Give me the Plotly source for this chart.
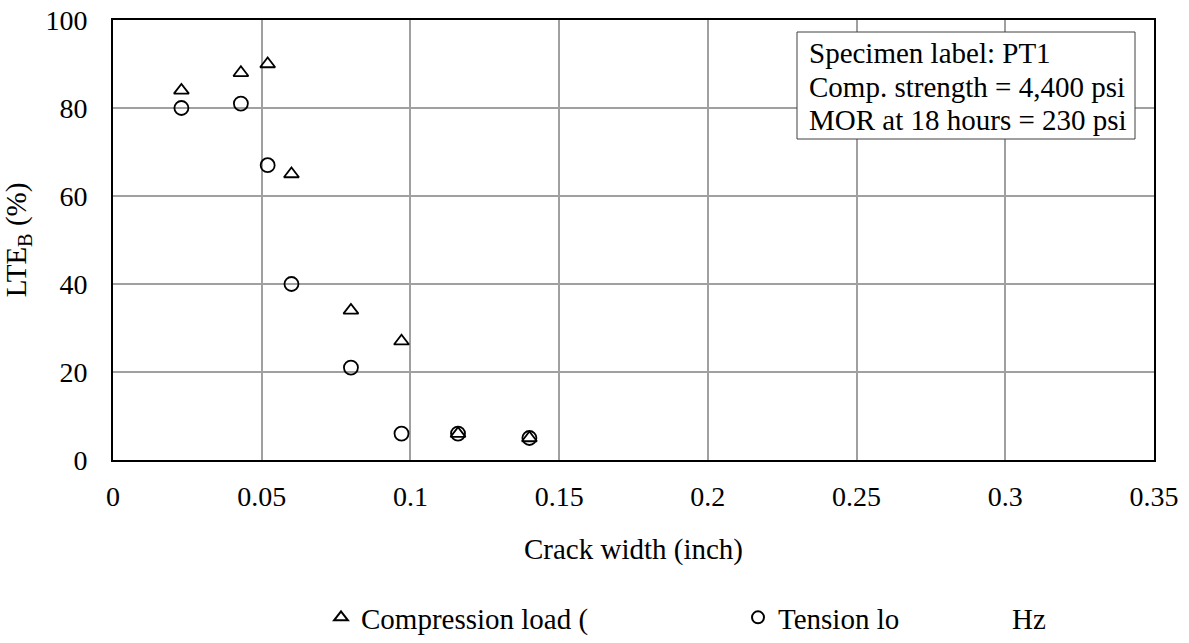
import plotly.graph_objects as go

# Data
crack_width = [0.023, 0.043, 0.052, 0.060, 0.080, 0.097, 0.116, 0.140]
lte_compression = [84, 88, 90, 65, 34, 27, 6, 5]
lte_tension = [80, 81, 67, 40, 21, 6, 6, 5]

x_ticks = [0, 0.05, 0.1, 0.15, 0.2, 0.25, 0.3, 0.35]
y_ticks = [0, 20, 40, 60, 80, 100]

series_names = ["Compression load (", "Tension lo"]
legend_tail = "Hz"
info_lines = ["Specimen label: PT1", "Comp. strength = 4,400 psi", "MOR at 18 hours = 230 psi"]

FONT = "Liberation Serif, Times New Roman, serif"
FS_TICK = 28
FS = 29

W, H = 1189, 643
ML, MR, MT, MB = 113, 35, 20, 183
PW = W - ML - MR
PH = H - MT - MB


def px(x):
    return (x - ML) / PW


def py(y):
    return (H - MB - y) / PH


fig = go.Figure()
fig.add_trace(go.Scatter(
    x=crack_width, y=lte_compression, mode="markers",
    name=series_names[0],
    marker=dict(symbol="triangle-up-open", size=13, color="black",
                line=dict(color="black", width=1.8)),
))
fig.add_trace(go.Scatter(
    x=crack_width, y=lte_tension, mode="markers",
    name=series_names[1],
    marker=dict(symbol="circle-open", size=14, color="black",
                line=dict(color="black", width=1.8)),
))

axis_common = dict(
    showline=True, linecolor="black", linewidth=2, mirror=True,
    showgrid=True, gridcolor="#a0a0a0", gridwidth=1.5,
    zeroline=False, ticks="",
    tickfont=dict(family=FONT, size=FS_TICK, color="black"),
)
fig.update_xaxes(range=[0, 0.35], tickvals=x_ticks,
                 ticktext=[f"{v:g}" for v in x_ticks],
                 ticklabelstandoff=10,
                 title=dict(text="Crack width (inch)", standoff=28,
                            font=dict(family=FONT, size=FS, color="black")),
                 **axis_common)
fig.update_yaxes(range=[0, 100], tickvals=y_ticks,
                 ticklabelstandoff=18,
                 title=dict(text="LTE<sub>B</sub> (%)", standoff=12,
                            font=dict(family=FONT, size=FS, color="black")),
                 **axis_common)

# info box
fig.add_shape(type="rect", xref="paper", yref="paper",
              x0=px(797), x1=px(1135), y0=py(139), y1=py(32),
              fillcolor="white", line=dict(color="#404040", width=1),
              layer="above")

annotations = []
for line, yc in zip(info_lines, [53, 87, 120]):
    annotations.append(dict(
        text=line, x=px(807), y=py(yc), xref="paper", yref="paper",
        xanchor="left", yanchor="middle", showarrow=False,
        font=dict(family=FONT, size=FS, color="black")))

annotations.append(dict(
    text=legend_tail, x=px(1010), y=py(619), xref="paper", yref="paper",
    xanchor="left", yanchor="middle", showarrow=False,
    font=dict(family=FONT, size=FS, color="black")))

fig.update_layout(
    width=W, height=H,
    margin=dict(l=ML, r=MR, t=MT, b=MB, autoexpand=False),
    paper_bgcolor="white", plot_bgcolor="white",
    showlegend=True,
    legend=dict(orientation="h", x=px(321), y=py(592),
                xanchor="left", yanchor="top",
                entrywidth=372, entrywidthmode="pixels",
                itemsizing="constant", bgcolor="rgba(0,0,0,0)",
                font=dict(family=FONT, size=FS, color="black")),
    annotations=annotations,
    font=dict(family=FONT, size=FS, color="black"),
)

fig.write_html("out.html")
